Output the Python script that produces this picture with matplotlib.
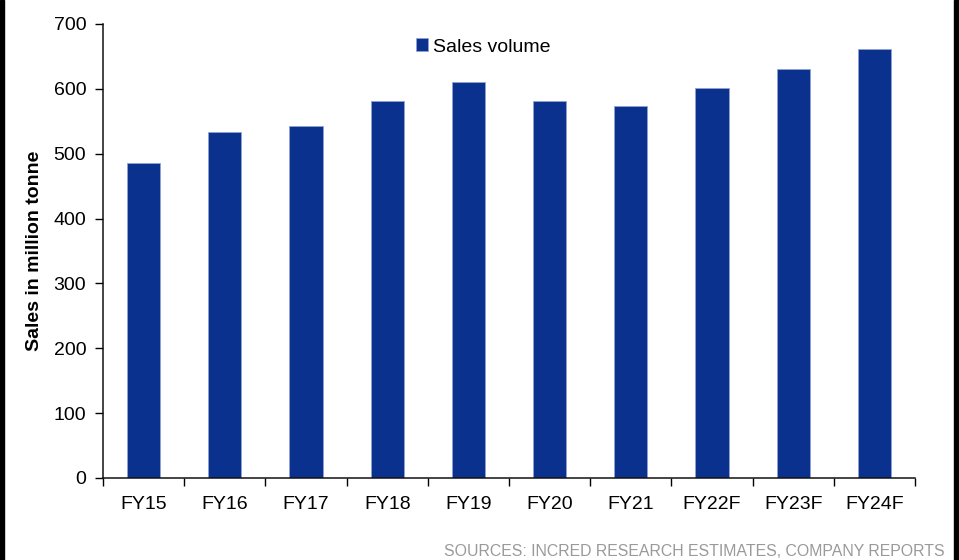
import numpy as np
import matplotlib.pyplot as plt
from matplotlib.patches import Rectangle

# Sales volume by fiscal year (F = forecast)
years = ["FY15", "FY16", "FY17", "FY18", "FY19", "FY20", "FY21", "FY22F", "FY23F", "FY24F"]
sales_volume = [485, 534, 542, 581, 610, 582, 573, 601, 631, 662]
y_ticks = [0, 100, 200, 300, 400, 500, 600, 700]

bar_color = "#0b318f"
plt.rcParams["font.family"] = ["Liberation Sans", "DejaVu Sans"]

fig = plt.figure(figsize=(9.59, 5.6), dpi=100)
ax = fig.add_axes([103 / 959, 1 - 478 / 560, (915 - 103) / 959, (478 - 24) / 560])

x = np.arange(len(years))
bars = ax.bar(x, sales_volume, width=0.41, color=bar_color,
              edgecolor="#8fa2d2", linewidth=0.6, label="Sales volume")

ax.set_xlim(-0.5, len(years) - 0.5)
ax.set_ylim(0, 700)
ax.set_yticks(y_ticks)

# category labels sit in the middle, tick marks sit on the boundaries
ax.set_xticks(x, labels=years)
ax.set_xticks(np.arange(-0.5, len(years)), minor=True)
ax.tick_params(axis="x", which="major", length=0, pad=13, labelsize=14)
ax.tick_params(axis="x", which="minor", length=6, width=1, direction="out")
ax.tick_params(axis="y", length=6, width=1, direction="out", pad=6, labelsize=14)

for side in ("top", "right"):
    ax.spines[side].set_visible(False)
for side in ("left", "bottom"):
    ax.spines[side].set_linewidth(1.1)
    ax.spines[side].set_color("#111111")

ax.set_ylabel("Sales in million tonne", fontsize=14, fontweight="bold")
ax.yaxis.set_label_coords(-0.074, 0.5)

ax.legend(loc="center left", bbox_to_anchor=(416 / 959, 1 - 47 / 560),
          bbox_transform=fig.transFigure, frameon=False, fontsize=14,
          handlelength=0.6, handleheight=0.6, handletextpad=0.25,
          borderpad=0, borderaxespad=0)

fig.text(945 / 959, 1 - 551 / 560, "SOURCES: INCRED RESEARCH ESTIMATES, COMPANY REPORTS",
         ha="right", va="center", fontsize=11.4, color="#9a9a9a")

# dark edges on both sides of the page
fig.patches.append(Rectangle((0, 0), 4 / 959, 1, transform=fig.transFigure,
                             color="black", zorder=10))
fig.patches.append(Rectangle((954 / 959, 0), 5 / 959, 1, transform=fig.transFigure,
                             color="black", zorder=10))

fig.savefig("out.png", dpi=100)
